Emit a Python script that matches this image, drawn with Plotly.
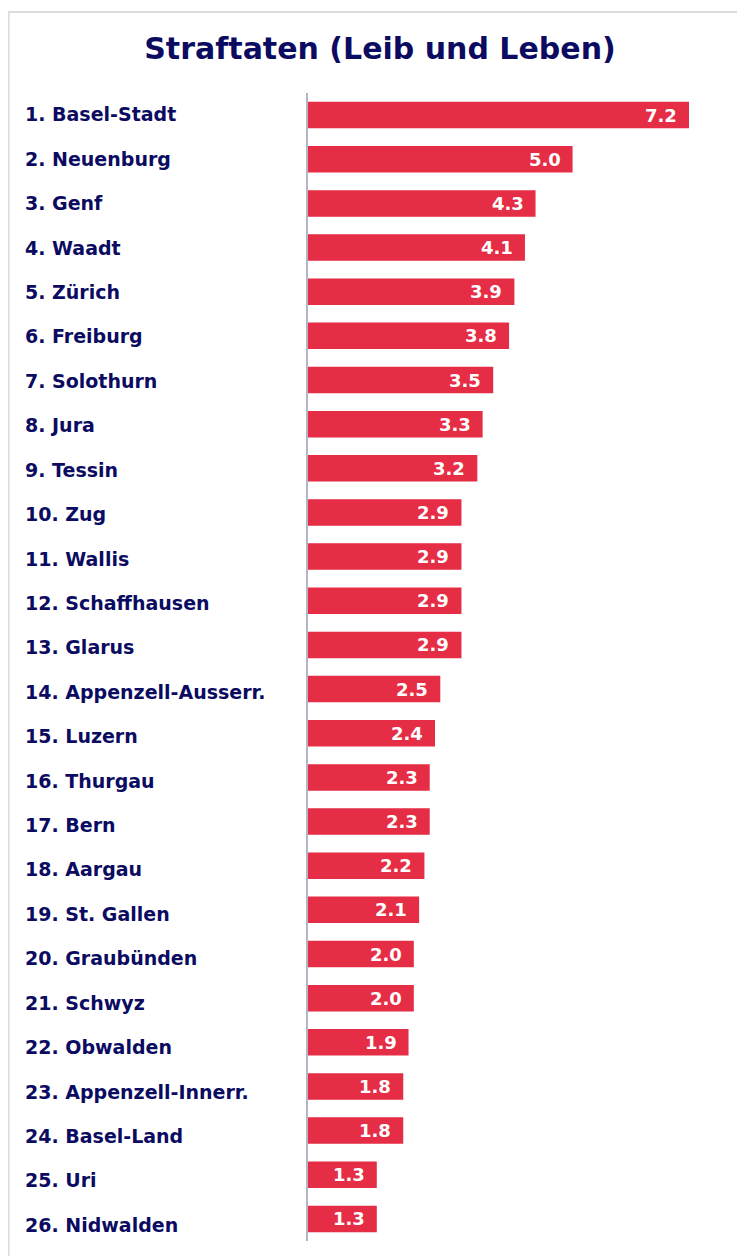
import plotly.graph_objects as go

cantons = ["Basel-Stadt", "Neuenburg", "Genf", "Waadt", "Zürich", "Freiburg", "Solothurn",
           "Jura", "Tessin", "Zug", "Wallis", "Schaffhausen", "Glarus", "Appenzell-Ausserr.",
           "Luzern", "Thurgau", "Bern", "Aargau", "St. Gallen", "Graubünden", "Schwyz",
           "Obwalden", "Appenzell-Innerr.", "Basel-Land", "Uri", "Nidwalden"]
values = [7.2, 5.0, 4.3, 4.1, 3.9, 3.8, 3.5, 3.3, 3.2, 2.9, 2.9, 2.9, 2.9, 2.5,
          2.4, 2.3, 2.3, 2.2, 2.1, 2.0, 2.0, 1.9, 1.8, 1.8, 1.3, 1.3]
labels = [f"{i+1}. {c}" for i, c in enumerate(cantons)]

# page has an 8px body margin; figure coords = page coords - 8
W, H = 745, 1248
L, R, T, B = 300, 681, 85, 1233
NAVY = "#0b0b62"
RED = "#e52d45"
FONT = "DejaVu Sans"

fig = go.Figure(go.Bar(
    x=values, y=labels, orientation="h",
    marker=dict(color=RED, line=dict(width=0)),
    hoverinfo="skip",
))

annotations = []
for i, (lab, v) in enumerate(zip(labels, values)):
    # row labels use a slightly larger row pitch than the bars
    annotations.append(dict(x=(15 - L) / (R - L), xref="paper", y=lab, yref="y",
                            text=f"<b>{lab}</b>", showarrow=False, xanchor="left",
                            yshift=0.8 - 0.27 * i,
                            font=dict(family=FONT, size=19, color=NAVY)))
    annotations.append(dict(x=v, xref="x", y=lab, yref="y", text=f"<b>{v:.1f}</b>",
                            showarrow=False, xanchor="right", xshift=-10,
                            font=dict(family=FONT, size=18, color="white")))

fig.update_layout(
    width=W, height=H,
    margin=dict(l=L, r=W - R, t=T, b=H - B),
    paper_bgcolor="white", plot_bgcolor="white",
    bargap=0.4,
    showlegend=False,
    title=dict(text="<b>Straftaten (Leib und Leben)</b>", x=372 / W, xanchor="center",
               y=1 - 40 / H, yanchor="middle",
               font=dict(family=FONT, size=30, color=NAVY)),
    xaxis=dict(range=[0, 7.2], visible=False, fixedrange=True),
    yaxis=dict(range=[len(labels) - 0.5, -0.5], showticklabels=False, ticks="",
               showgrid=False, zeroline=False, showline=True, linecolor="#b5b5c5",
               linewidth=1.5, fixedrange=True),
    annotations=annotations,
    shapes=[dict(type="rect", xref="paper", yref="paper",
                 x0=(0.5 - L) / (R - L), x1=(780 - L) / (R - L),
                 y0=(B - 1290) / (B - T), y1=(B - 4) / (B - T),
                 line=dict(color="#dcdcdc", width=2), fillcolor="rgba(0,0,0,0)",
                 layer="below")],
)

fig.write_html("out.html")
